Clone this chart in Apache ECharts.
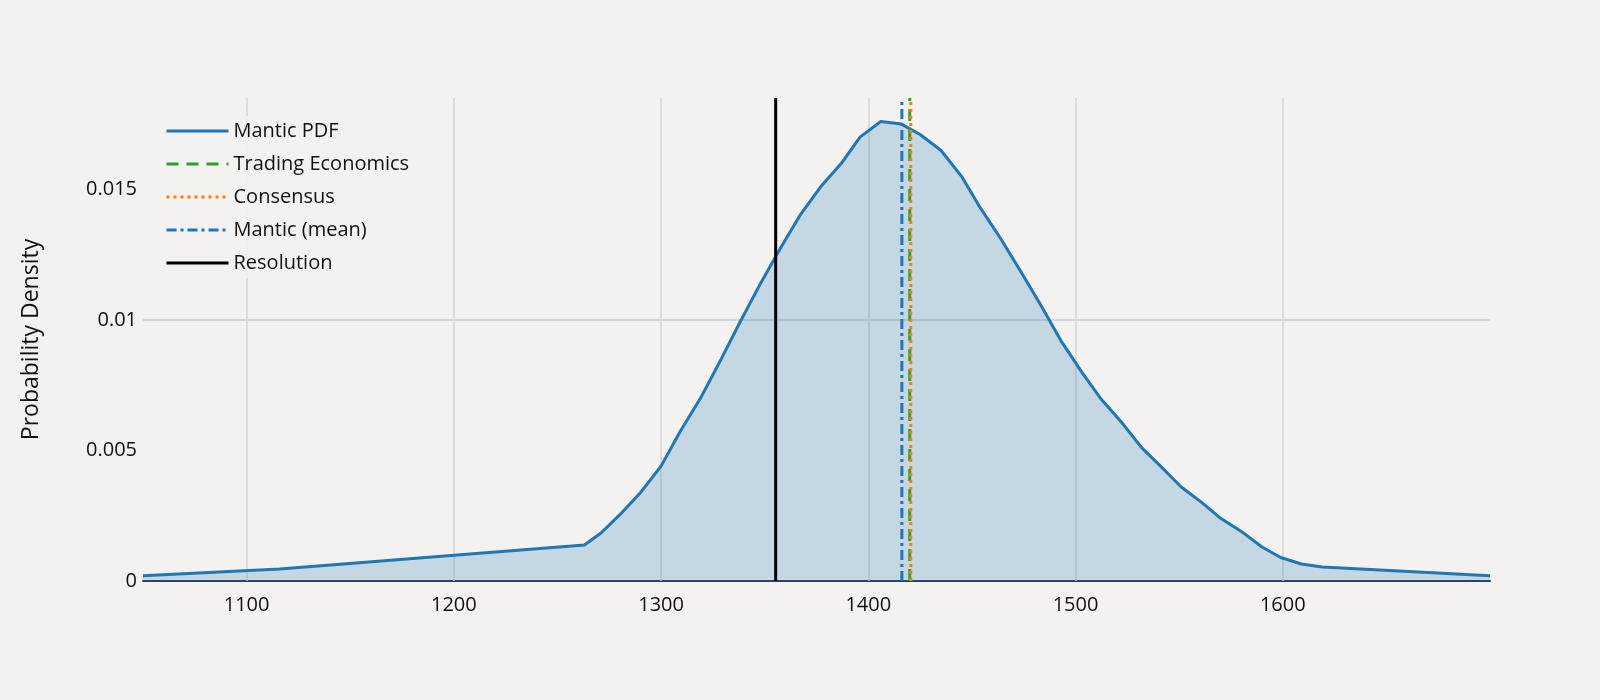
<!DOCTYPE html>
<html><head><meta charset="utf-8">
<script src="https://cdn.jsdelivr.net/npm/echarts@6/dist/echarts.min.js"></script>
<style>html,body{margin:0;background:#f3f2f1}#c{width:1600px;height:700px}</style>
</head><body><div id="c"></div>
<script>
var pdfX = [1050,1116,1263,1271,1280,1290,1300,1309,1319,1329,1338,1348,1358,1367,1377,1387,1396,1406,1416,1425,1435,1445,1454,1464,1474,1483,1493,1503,1512,1522,1532,1541,1551,1561,1570,1580,1590,1599,1609,1619,1700];
var pdfY = [0.0002,0.00046,0.00138,0.00184,0.00253,0.00338,0.0044,0.0057,0.0070,0.0085,0.0099,0.0114,0.0128,0.0140,0.0151,0.0160,0.0170,0.0176,0.0175,0.0171,0.0165,0.0155,0.0143,0.0131,0.0118,0.0106,0.0092,0.0080,0.0070,0.0061,0.0051,0.0044,0.0036,0.0030,0.0024,0.0019,0.0013,0.0009,0.00065,0.00054,0.0002];
var tradingEconomics = 1420;
var consensus = 1420.5;
var manticMean = 1416.2;
var resolution = 1355.3;
var xGridValues = [1100,1200,1300,1400,1500,1600];
var yGridValues = [0.005,0.01,0.015];
var yTop = 0.0185;

var myChart = echarts.init(document.getElementById('c'));
var font = 'Open Sans';
var gridStyle = {color: '#d4d4d4', width: 1.5, type: 'solid'};
function vline(name, x, color, type, z) {
    return {
        name: name, type: 'line', symbol: 'none', z: z,
        data: [[x, 0], [x, yTop]],
        lineStyle: {color: color, width: 3, type: type},
        itemStyle: {color: color}
    };
}
var option = {
    backgroundColor: '#f3f2f1',
    animation: false,
    grid: {left: 143, right: 110, top: 98, bottom: 119},
    legend: {
        left: 160, top: 116, orient: 'vertical', itemGap: 13,
        itemWidth: 62, itemHeight: 12,
        itemStyle: {opacity: 0},
        lineStyle: {width: 3},
        backgroundColor: 'rgba(243,242,241,0.9)',
        textStyle: {fontFamily: font, fontSize: 20, color: '#111'},
        data: ['Mantic PDF', 'Trading Economics', 'Consensus', 'Mantic (mean)', 'Resolution']
    },
    xAxis: {
        type: 'value', min: 1050, max: 1700, interval: 50,
        axisLine: {show: true, onZero: false, lineStyle: {color: '#2a3f5f', width: 2}},
        axisTick: {show: false},
        splitLine: {show: false},
        axisLabel: {
            fontFamily: font, fontSize: 20, color: '#111', margin: 14,
            formatter: function (v) { return (v % 100 === 0 && v > 1050 && v < 1700) ? v : ''; }
        }
    },
    yAxis: {
        type: 'value', min: 0, max: yTop, interval: 0.005,
        name: 'Probability Density', nameLocation: 'middle', nameGap: 100,
        nameTextStyle: {fontFamily: font, fontSize: 23, color: '#111'},
        axisLine: {show: false}, axisTick: {show: false},
        splitLine: {show: false},
        axisLabel: {fontFamily: font, fontSize: 20, color: '#111', margin: 6,
            formatter: function (v) { return v > 0.0184 ? '' : String(+v.toFixed(3)); }}
    },
    series: [
        {
            name: 'Mantic PDF', type: 'line', symbol: 'none', smooth: false, z: 3,
            data: pdfX.map(function (x, i) { return [x, pdfY[i]]; }),
            lineStyle: {color: '#1f77b4', width: 3},
            itemStyle: {color: '#1f77b4'},
            areaStyle: {color: 'rgba(31,119,180,0.3)'},
            markLine: {
                silent: true, symbol: 'none', z: 1, label: {show: false},
                lineStyle: gridStyle,
                data: xGridValues.map(function (v) { return {xAxis: v}; })
                    .concat(yGridValues.map(function (v) { return {yAxis: v}; }))
            }
        },
        vline('Trading Economics', tradingEconomics, '#2ca02c', [12, 8], 4),
        vline('Consensus', consensus, '#ff7f0e', [3, 4], 5),
        vline('Mantic (mean)', manticMean, '#1f77b4', [10, 4, 3, 4], 6),
        vline('Resolution', resolution, '#000000', 'solid', 7)
    ]
};
myChart.setOption(option);
</script></body></html>
